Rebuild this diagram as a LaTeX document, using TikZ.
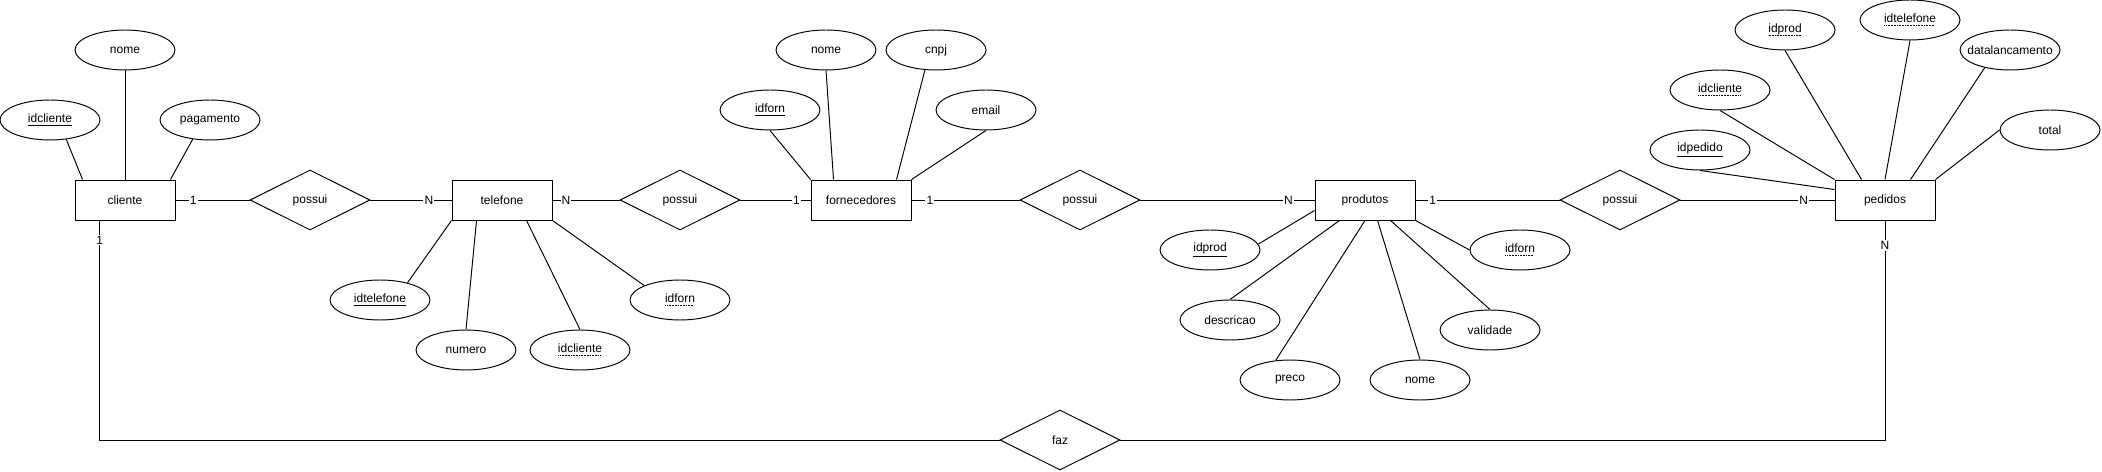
\documentclass[tikz,border=0pt]{standalone}
\usepackage{fontspec}
\setmainfont{Liberation Sans}
\usepackage{tikz}
\usetikzlibrary{calc,shapes.geometric}

% dotted underline for foreign keys
\newcommand{\fkey}[1]{\setbox0=\hbox{#1}\rlap{\raisebox{-1.7pt}{\hbox to \wd0{\leaders\hbox to 0.9pt{\hss\rule{0.45pt}{0.45pt}\hss}\hfill}}}\box0}

\begin{document}
\begin{tikzpicture}[x=0.02cm,y=-0.02cm,line width=0.55pt,
    font=\fontsize{6.83pt}{8pt}\selectfont,
    entity/.style={draw,rectangle,minimum width=2cm,minimum height=0.8cm,inner sep=0pt},
    attr/.style={draw,ellipse,minimum width=2cm,minimum height=0.8cm,inner sep=0pt},
    rel/.style={draw,diamond,minimum width=2.4cm,minimum height=1.2cm,inner sep=0pt,aspect=2},
    card/.style={fill=white,inner sep=0.6pt}]
  \useasboundingbox (0,0) rectangle (2102,472);

  % entities
  \node[entity] (cliente) at (125,200) {cliente};
  \node[entity] (telefone) at (502,200) {telefone};
  \node[entity] (fornecedores) at (861,200) {fornecedores};
  \node[entity] (produtos) at (1365,200) {produtos};
  \node[entity] (pedidos) at (1885,200) {pedidos};

  % relationships
  \node[rel] (rel1) at (310,200) {possui};
  \node[rel] (rel2) at (680,200) {possui};
  \node[rel] (rel3) at (1080,200) {possui};
  \node[rel] (rel4) at (1620,200) {possui};
  \node[rel] (faz) at (1060,440) {faz};

  % cliente
  \node[attr] (cl-nome) at (125,50) {nome};
  \node[attr] (cl-id) at (50,120) {\underline{idcliente}};
  \node[attr] (cl-pag) at (210,120) {pagamento};
  \draw (cl-nome.south) -- (cliente.north);
  \draw (cl-id.-50) -- ($(cliente.north west)+(8,0)$);
  \draw (cl-pag.-132) -- ($(cliente.north east)+(-5,0)$);

  % telefone
  \node[attr] (tel-id) at (380,300) {\underline{idtelefone}};
  \node[attr] (tel-num) at (466,350) {numero};
  \node[attr] (tel-cli) at (580,350) {\fkey{idcliente}};
  \node[attr] (tel-forn) at (680,300) {\fkey{idforn}};
  \draw (tel-id.32) -- (telefone.south west);
  \draw (tel-num.north) -- ($(telefone.south west)+(25,0)$);
  \draw (tel-cli.north) -- ($(telefone.south west)+(75,0)$);
  \draw (tel-forn.158) -- (telefone.south east);

  % fornecedores
  \node[attr] (fo-id) at (770,110) {\underline{idforn}};
  \node[attr] (fo-nome) at (826,50) {nome};
  \node[attr] (fo-cnpj) at (936,50) {cnpj};
  \node[attr] (fo-email) at (986,110) {email};
  \draw (fo-id.south) -- (fornecedores.north west);
  \draw (fo-nome.south) -- ($(fornecedores.north west)+(23,0)$);
  \draw (fo-cnpj.-119) -- ($(fornecedores.north west)+(86,0)$);
  \draw (fo-email.south) -- (fornecedores.north east);

  % produtos
  \node[attr] (pr-id) at (1210,250) {\underline{idprod}};
  \node[attr] (pr-desc) at (1230,320) {descricao};
  \node[attr] (pr-preco) at (1290,380) {preco};
  \node[attr] (pr-nome) at (1420,380) {nome};
  \node[attr] (pr-val) at (1490,330) {validade};
  \node[attr] (pr-forn) at (1520,250) {\fkey{idforn}};
  \draw (pr-id.7) -- ($(produtos.north west)+(0,31)$);
  \draw (pr-desc.north) -- ($(produtos.south west)+(25,0)$);
  \draw (pr-preco.126) -- (produtos.south);
  \draw (pr-nome.north) -- ($(produtos.south west)+(63,0)$);
  \draw (pr-val.north) -- ($(produtos.south west)+(76,0)$);
  \draw (pr-forn.west) -- (produtos.south east);

  % pedidos
  \node[attr] (pe-id) at (1700,150) {\underline{idpedido}};
  \node[attr] (pe-cli) at (1720,90) {\fkey{idcliente}};
  \node[attr] (pe-prod) at (1785,30) {\fkey{idprod}};
  \node[attr] (pe-tel) at (1910,20) {\fkey{idtelefone}};
  \node[attr] (pe-data) at (2010,50) {\makebox[0pt]{datalancamento}};
  \node[attr] (pe-total) at (2050,130) {total};
  \draw (pe-id.south) -- ($(pedidos.north west)+(0,10)$);
  \draw (pe-cli.south) -- (pedidos.north west);
  \draw (pe-prod.south) -- ($(pedidos.north west)+(27,0)$);
  \draw (pe-tel.south) -- (pedidos.north);
  \draw (pe-data.-145) -- ($(pedidos.north west)+(76,0)$);
  \draw (pe-total.west) -- (pedidos.north east);

  % relationships with cardinalities
  \draw (cliente) -- node[card,pos=0.24] {1} (rel1);
  \draw (rel1) -- node[card,pos=0.72] {N} (telefone);
  \draw (telefone) -- node[card,pos=0.2] {N} (rel2);
  \draw (rel2) -- node[card,pos=0.8] {1} (fornecedores);
  \draw (fornecedores) -- node[card,pos=0.17] {1} (rel3);
  \draw (rel3) -- node[card,pos=0.85] {N} (produtos);
  \draw (produtos) -- node[card,pos=0.12] {1} (rel4);
  \draw (rel4) -- node[card,pos=0.8] {N} (pedidos);

  \coordinate (clfoot) at ($(cliente.south west)!0.25!(cliente.south east)$);
  \draw (clfoot) |- node[card,pos=0.045] {1} (faz);
  \draw (faz) -| node[card,pos=0.943] {N} (pedidos);
\end{tikzpicture}
\end{document}
